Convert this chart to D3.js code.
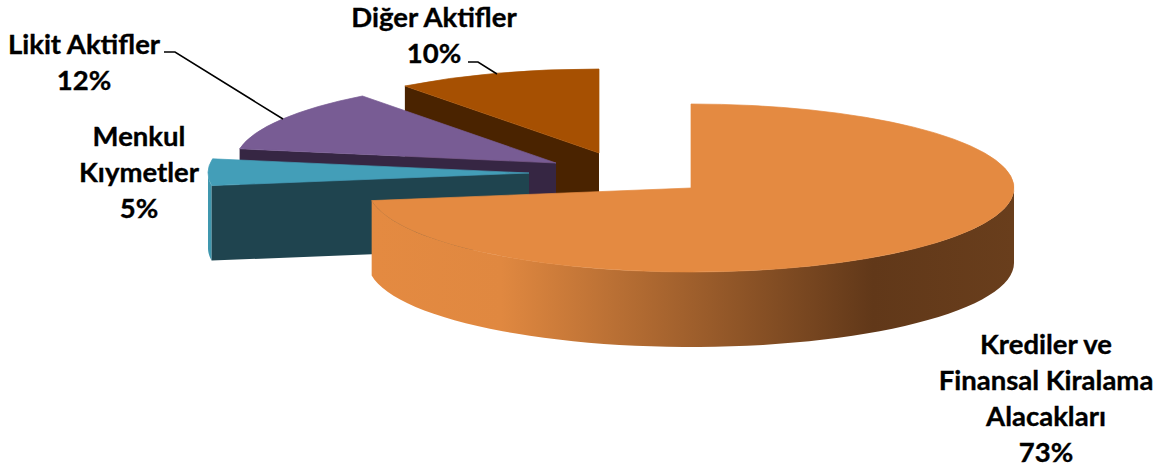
<!DOCTYPE html>
<html>
<head>
<meta charset="utf-8">
<script src="https://cdn.jsdelivr.net/npm/d3@7"></script>
<style>
  html, body { margin: 0; padding: 0; background: #fff; }
  text { font-family: Lato, "Open Sans", sans-serif; font-weight: 700; font-size: 27.5px; fill: #000; stroke: #000; stroke-width: 0.35px; text-anchor: middle; }
</style>
</head>
<body>
<div id="chart"></div>
<script>
// Values
const categories = ["Krediler ve Finansal Kiralama Alacakları", "Menkul Kıymetler", "Likit Aktifler", "Diğer Aktifler"];
const shares = [72.6, 5.1, 12.0, 10.3];
const labelLines = [
  ["Krediler ve", "Finansal Kiralama", "Alacakları"],
  ["Menkul", "Kıymetler"],
  ["Likit Aktifler"],
  ["Diğer Aktifler"],
];

// Look of each slice (top, wall, cut face) and where it sits after the explosion
const topColours = ["#e48a41", "#439eb8", "#785c94", "#a65002"];
const wallColours = ["url(#main-wall)", "#3f97ae", "#362643", "#4a2300"];
const cutColours = ["#4a2300", "#1f444f", "#362643", "#4a2300"];
const centres = [[691, 188], [529, 173], [556, 163], [599, 153]];
const radiiX = [323, 321, 321, 322];
const labelAnchors = [[1046, 354], [139, 146], [84, 54], [434, 27]];
const lineHeight = 36;
const leaders = [null, null, [[164, 52], [175, 52], [283, 119]], [[468, 62], [478, 62], [497, 74]]];

const config = { width: 1160, height: 468, ry: 84, depth: 75 };

const svg = d3.select("#chart").append("svg")
  .attr("width", config.width)
  .attr("height", config.height)
  .style("display", "block");

const grad = svg.append("defs").append("linearGradient")
  .attr("id", "main-wall")
  .attr("gradientUnits", "userSpaceOnUse")
  .attr("x1", 373).attr("x2", 1014).attr("y1", 0).attr("y2", 0);
[[0, "#e48a41"], [0.2, "#e08840"], [0.78, "#613819"], [1, "#693e1c"]].forEach(([o, c]) => {
  grad.append("stop").attr("offset", o).attr("stop-color", c);
});

const pie = d3.pie().sort(null);
const slices = pie(shares);
const outline = d3.line();

// angle -> point on the rim of a slice, 0 = 12 o'clock, clockwise
const rimPoint = (c, rx, a, drop) => [
  c[0] + rx * Math.sin(a),
  c[1] - config.ry * Math.cos(a) + drop,
];

// Back to front: Diğer, Likit, Menkul, then the big slice
const order = [3, 2, 1, 0];

order.forEach((i) => {
  const s = slices[i];
  const c = centres[i];
  const rx = radiiX[i];
  const g = svg.append("g");

  // outer wall, only the part that faces the viewer
  const from = Math.max(s.startAngle, Math.PI / 2);
  const to = Math.min(s.endAngle, Math.PI * 1.5);
  if (to > from) {
    const angles = d3.range(0, 61).map((k) => from + ((to - from) * k) / 60);
    const pts = angles.map((a) => rimPoint(c, rx, a, 0))
      .concat(angles.slice().reverse().map((a) => rimPoint(c, rx, a, config.depth)));
    g.append("path").attr("d", outline(pts) + "Z").attr("fill", wallColours[i]);
  }

  // cut face on the start side of the slice
  if (Math.sin(s.startAngle) < -1e-6) {
    const a = s.startAngle;
    const pts = [
      [c[0], c[1]],
      rimPoint(c, rx, a, 0),
      rimPoint(c, rx, a, config.depth),
      [c[0], c[1] + config.depth],
    ];
    g.append("path").attr("d", outline(pts) + "Z").attr("fill", cutColours[i]);
  }

  // top face: a plain d3 arc squashed into an ellipse
  const topArc = d3.arc().innerRadius(0).outerRadius(rx);
  g.append("path")
    .attr("d", topArc(s))
    .attr("transform", `translate(${c[0]},${c[1]}) scale(1,${config.ry / rx})`)
    .attr("fill", topColours[i])
    .attr("stroke", topColours[i])
    .attr("stroke-width", 0.7)
    .attr("vector-effect", "non-scaling-stroke");
});

// Leader lines
leaders.filter(Boolean).forEach((l) => {
  svg.append("path")
    .attr("d", outline(l))
    .attr("fill", "none")
    .attr("stroke", "#000")
    .attr("stroke-width", 1.5);
});

// Labels, percent is the last line
labelLines.forEach((lines, i) => {
  const t = svg.append("text");
  lines.concat([Math.round(shares[i]) + "%"]).forEach((line, k) => {
    t.append("tspan")
      .attr("x", labelAnchors[i][0])
      .attr("y", labelAnchors[i][1] + k * lineHeight)
      .text(line);
  });
});
</script>
</body>
</html>
